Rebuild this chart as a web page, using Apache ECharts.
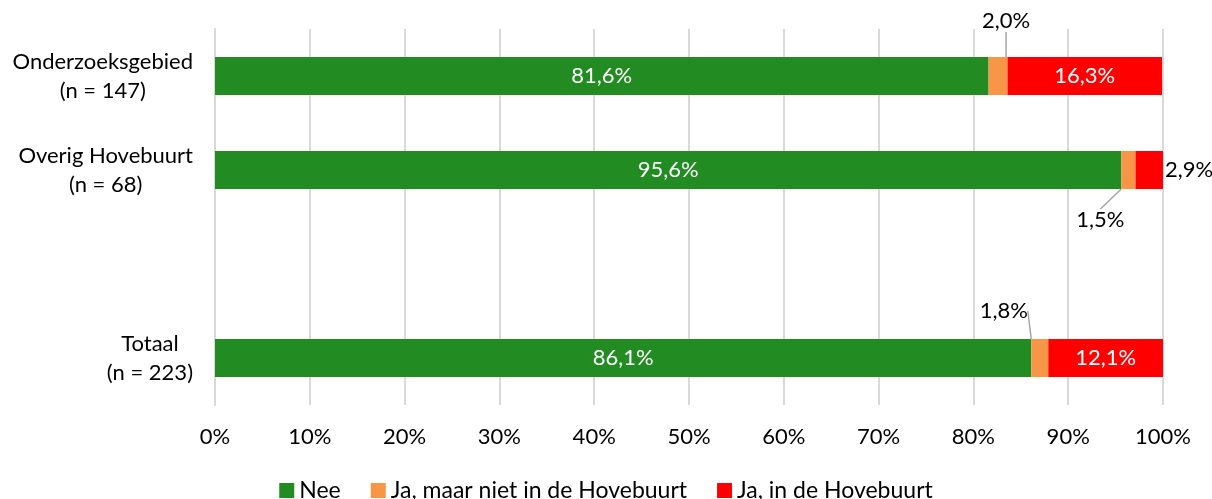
<!DOCTYPE html>
<html>
<head>
<meta charset="utf-8">
<script src="https://cdn.jsdelivr.net/npm/echarts@6/dist/echarts.min.js"></script>
<style>
  html, body { margin: 0; padding: 0; background: #fff; }
  #chart { width: 1212px; height: 499px; }
</style>
</head>
<body>
<div id="chart"></div>
<script>
// categories, top to bottom ('' is the empty gap row)
const categories = ['Onderzoeksgebied\n(n = 147)', 'Overig Hovebuurt\n(n = 68)', '', 'Totaal\n(n = 223)'];
const seriesNames = ['Nee', 'Ja, maar niet in de Hovebuurt', 'Ja, in de Hovebuurt'];
const nee = [81.6, 95.6, '-', 86.1];
const jaElders = [2.0, 1.5, '-', 1.8];
const jaHovebuurt = [16.3, 2.9, '-', 12.1];
const xTicks = [0, 10, 20, 30, 40, 50, 60, 70, 80, 90, 100];

const colors = ['#228B22', '#F79646', '#FF0000'];
const font = 'Lato, "Open Sans", sans-serif';
const fs = 22;

function pct(v) {
  return v.toFixed(1).replace('.', ',') + '%';
}

// outside labels for the small orange slices (moved, with leader line)
const orangeShift = [
  { position: 'top', dx: 8, dy: -20 },
  { position: 'bottom', dx: -28, dy: 15 },
  null,
  { position: 'top', dx: -36, dy: -12 },
];

let myChart = echarts.init(document.getElementById('chart'));
let option = {
  color: colors,
  animation: false,
  textStyle: { fontFamily: font },
  grid: { left: 215, right: 49, top: 29, bottom: 94, containLabel: false },
  legend: {
    data: seriesNames,
    top: 474,
    left: 'center',
    icon: 'rect',
    itemWidth: 15,
    itemHeight: 15,
    itemGap: 30,
    textStyle: { fontSize: 23, color: '#000', fontFamily: font },
  },
  xAxis: {
    type: 'value',
    min: 0,
    max: 100,
    interval: 10,
    axisLine: { show: false },
    axisTick: { show: false },
    axisLabel: {
      formatter: v => (xTicks.indexOf(v) >= 0 ? v + '%' : ''),
      fontSize: fs,
      color: '#000',
      margin: 21,
    },
    splitLine: { lineStyle: { color: '#d9d9d9', width: 2 } },
  },
  yAxis: {
    type: 'category',
    inverse: true,
    data: categories,
    axisLine: { lineStyle: { color: '#d9d9d9', width: 2 } },
    axisTick: { show: false },
    axisLabel: {
      fontSize: fs,
      color: '#000',
      margin: 22,
      lineHeight: 29,
      formatter: v => v.split('\n').map(s => '{c|' + s + '}').join('\n'),
      rich: { c: { align: 'center', fontSize: fs, lineHeight: 29, color: '#000' } },
    },
  },
  series: [
    {
      name: seriesNames[0],
      type: 'bar',
      stack: 'total',
      barWidth: 38,
      data: nee,
      label: { show: true, position: 'inside', color: '#fff', fontSize: fs, formatter: p => pct(p.value) },
    },
    {
      name: seriesNames[1],
      type: 'bar',
      stack: 'total',
      barWidth: 38,
      data: jaElders.map((v, i) => ({
        value: v,
        label: orangeShift[i] ? { position: orangeShift[i].position } : {},
      })),
      label: { show: true, color: '#000', fontSize: fs, distance: 5, formatter: p => pct(p.value) },
      labelLine: { show: true, lineStyle: { color: '#a6a6a6', width: 1.5 } },
      labelLayout: p => {
        const s = orangeShift[p.dataIndex];
        return s ? { dx: s.dx, dy: s.dy } : {};
      },
    },
    {
      name: seriesNames[2],
      type: 'bar',
      stack: 'total',
      barWidth: 38,
      data: jaHovebuurt.map((v, i) => (i === 1
        ? { value: v, label: { position: 'right', color: '#000', distance: 2 } }
        : { value: v })),
      label: { show: true, position: 'inside', color: '#fff', fontSize: fs, formatter: p => pct(p.value) },
    },
  ],
};
myChart.setOption(option);
</script>
</body>
</html>
